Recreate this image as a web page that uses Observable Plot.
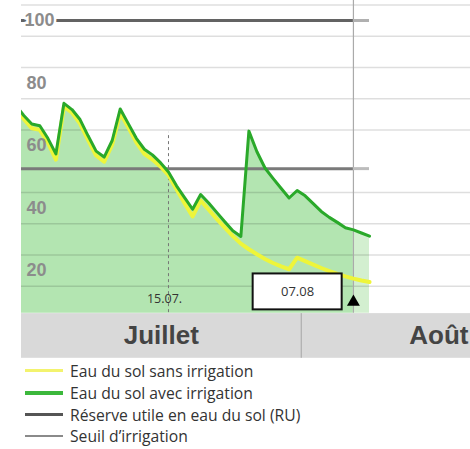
<!DOCTYPE html>
<html><head><meta charset="utf-8">
<script src="https://cdn.jsdelivr.net/npm/d3@7"></script>
<script src="https://cdn.jsdelivr.net/npm/@observablehq/plot@0.6"></script>
<style>
body{margin:0;background:#fff;width:470px;height:449px;overflow:hidden;font-family:"Open Sans",sans-serif}
#legend{margin-top:0px}
.row{display:flex;align-items:center;height:21.8px}
.sw{display:inline-block;width:38px;margin-left:25px}
.lt{margin-left:7px;font-size:15.7px;color:#333;white-space:nowrap}
</style></head>
<body><div id="chart"></div><div id="legend"></div>
<script>
const dates = ["2023-06-26","2023-06-27","2023-06-28","2023-06-29","2023-06-30",
"2023-07-01","2023-07-02","2023-07-03","2023-07-04","2023-07-05","2023-07-06","2023-07-07","2023-07-08","2023-07-09","2023-07-10",
"2023-07-11","2023-07-12","2023-07-13","2023-07-14","2023-07-15","2023-07-16","2023-07-17","2023-07-18","2023-07-19","2023-07-20",
"2023-07-21","2023-07-22","2023-07-23","2023-07-24","2023-07-25","2023-07-26","2023-07-27","2023-07-28","2023-07-29","2023-07-30","2023-07-31",
"2023-08-01","2023-08-02","2023-08-03","2023-08-04","2023-08-05","2023-08-06","2023-08-07","2023-08-08","2023-08-09"];
const avecIrrigation = [73,69.6,66.9,66.3,62.3,57.3,73.5,71.5,68.3,63.1,58.2,56.3,61.6,71.7,67.0,62.3,58.8,57.0,54.5,51.5,
47.1,43.3,39.6,44.3,41.6,38.6,35.6,32.7,30.9,64.6,58.0,52.8,49.5,46.3,43.2,45.6,43.9,41.4,38.9,37.0,35.4,33.7,33.0,32.0,31.0];
const sansIrrigation = [72,68.5,65.5,65,61,55.5,72.5,70.5,67,61.8,56.8,54.8,60.3,70.5,65.8,61,57.3,55.5,53.3,50.5,
46,41.5,37.3,42.4,39.5,36.5,33.7,31.0,28.6,26.8,25.2,23.7,22.4,21.3,20.4,24.1,23.0,21.9,20.8,19.8,18.9,18.1,17.4,16.8,16.3];
const reserveUtile = 100;
const seuilIrrigation = 52.6;
const yTickLabels = [20,40,60,80,100];
const gridValues = [15,25,35,45,65,75,85,95,105];
const months = ["Juillet","Août"];
const refDateStr = "2023-07-15", refLabel = "15.07.";
const markerDateStr = "2023-08-07", markerLabel = "07.08";
const monthBoundaryStr = "2023-07-31T12:00";
const legendItems = [
  {label:"Eau du sol sans irrigation", color:"#f3f36e", w:3},
  {label:"Eau du sol avec irrigation", color:"#3cb83c", w:4},
  {label:"Réserve utile en eau du sol (RU)", color:"#555", w:3},
  {label:"Seuil d\u2019irrigation", color:"#8a8a8a", w:2}
];

const parse = d3.utcParse("%Y-%m-%d");
const day = 864e5;
const data = dates.map((d,i)=>({date:parse(d), avec:avecIrrigation[i], sans:sansIrrigation[i]}));
const ref = parse(refDateStr), marker = parse(markerDateStr);
const boundary = d3.utcParse("%Y-%m-%dT%H:%M")(monthBoundaryStr);
const x0 = new Date(+ref - 18.28*day), x1 = new Date(+ref + 37.56*day);
const base = 6.3, bandTop = 6.2, bandBottom = -8.1;
const past = data.filter(d=>d.date<=marker), future = data.filter(d=>d.date>=marker);
const last = data[data.length-1].date;

const chart = Plot.plot({
  width:470, height:360, marginLeft:21, marginRight:0, marginTop:0, marginBottom:0,
  x:{type:"utc", domain:[x0,x1], axis:null},
  y:{domain:[-8.8,106.4], axis:null},
  style:{background:"transparent"},
  marks:[
    Plot.areaY(past,{x:"date", y1:base, y2:"avec", fill:"#b3e5b1", clip:true}),
    Plot.areaY(future,{x:"date", y1:base, y2:"avec", fill:"#d3efd0", clip:true}),
    Plot.ruleY(gridValues,{stroke:"#000", strokeOpacity:0.13, strokeWidth:1.5}),
    Plot.ruleX([marker],{y1:base, y2:106.4, stroke:"#aaa", strokeWidth:1.2}),
    Plot.ruleX([ref],{y1:4.6, y2:64.2, stroke:"#777", strokeDasharray:"3,3", strokeWidth:1}),
    Plot.ruleY([reserveUtile],{x1:x0, x2:marker, stroke:"#636363", strokeWidth:3}),
    Plot.ruleY([reserveUtile],{x1:marker, x2:last, stroke:"#b0b0b0", strokeWidth:3}),
    Plot.ruleY([seuilIrrigation],{x1:x0, x2:marker, stroke:"#7a7a7a", strokeWidth:3}),
    Plot.ruleY([seuilIrrigation],{x1:marker, x2:last, stroke:"#bcbcbc", strokeWidth:3}),
    Plot.lineY(data,{x:"date", y:"sans", stroke:"#eef53a", strokeWidth:4, clip:true}),
    Plot.lineY(data,{x:"date", y:"avec", stroke:"#2aa92a", strokeWidth:3, clip:true}),
    Plot.text(yTickLabels.filter(v=>v===100),{x:x0, y:d=>d, text:d=>String(d), textAnchor:"start", dx:3, fill:"#8c8c8c", stroke:"white", strokeWidth:5, fontSize:18, fontWeight:"bold", fontFamily:"Liberation Sans"}),
    Plot.text(yTickLabels.filter(v=>v!==100),{x:x0, y:d=>d, text:d=>String(d), textAnchor:"start", dx:5, fill:"#8c8c8c", fontSize:18, fontWeight:"bold", fontFamily:"Liberation Sans"}),
    Plot.text([refLabel],{x:ref, y:11, text:d=>d, dx:-4, fill:"#333", fontSize:12.5, fontFamily:"Open Sans"}),
    Plot.rect([markerLabel],{x1:new Date(+marker-12.47*day), x2:new Date(+marker-1.4*day), y1:7.4, y2:18.9, fill:"white", stroke:"#111", strokeWidth:2}),
    Plot.text([markerLabel],{x:new Date(+marker-6.95*day), y:13.2, text:d=>d, fill:"#333", fontSize:13, fontFamily:"Open Sans"}),
    Plot.dot([markerLabel],{x:marker, y:9.9, symbol:"triangle", r:4.8, fill:"#000", stroke:"none"}),
    Plot.rect([{a:x0,b:boundary},{a:boundary,b:x1}],{x1:"a", x2:"b", y1:bandBottom, y2:bandTop, fill:"#d9d9d9"}),
    Plot.ruleX([boundary],{y1:bandBottom, y2:bandTop, stroke:"#a0a0a0", strokeWidth:1}),
    Plot.text([months[0]],{x:new Date((+x0 + +boundary)/2), y:(bandTop+bandBottom)/2, text:d=>d, fill:"#444", fontSize:26, fontWeight:"bold", fontFamily:"Liberation Sans"}),
    Plot.text([months[1]],{x:x1, y:(bandTop+bandBottom)/2, text:d=>d, textAnchor:"end", dx:-2, fill:"#444", fontSize:26, fontWeight:"bold", fontFamily:"Liberation Sans"})
  ]
});
document.getElementById("chart").appendChild(chart);
const lg = document.getElementById("legend");
for (const it of legendItems){
  const r = document.createElement("div"); r.className="row";
  const s = document.createElement("span"); s.className="sw"; s.style.height=it.w+"px"; s.style.background=it.color;
  const t = document.createElement("span"); t.className="lt"; t.textContent=it.label;
  r.appendChild(s); r.appendChild(t); lg.appendChild(r);
}
</script></body></html>
